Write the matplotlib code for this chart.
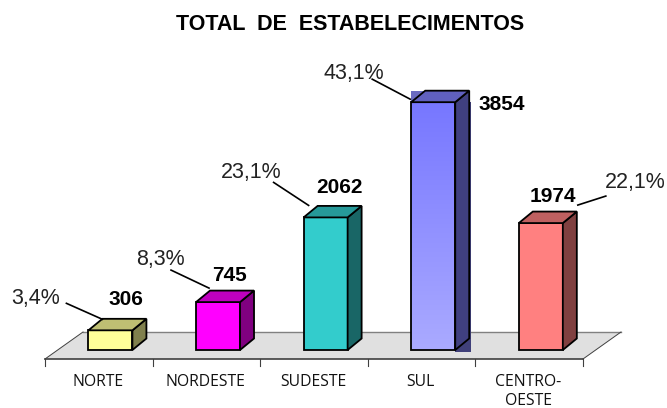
from matplotlib import pyplot as plt
from matplotlib.colors import LinearSegmentedColormap
from matplotlib.patches import Polygon
import numpy as np

# Data
categories = ['NORTE', 'NORDESTE', 'SUDESTE', 'SUL', 'CENTRO-\nOESTE']
values = [306, 745, 2062, 3854, 1974]
percents = ['3,4%', '8,3%', '23,1%', '43,1%', '22,1%']

# Colours (front, top, side)
front_colors = ['#FFFF99', '#FF00FF', '#33CCCC', '#8080FF', '#FF8080']
top_colors = ['#BFBF73', '#BF00BF', '#269999', '#6060BF', '#BF6060']
side_colors = ['#80804D', '#800080', '#196666', '#404080', '#804040']

# Label offsets in pixels from the top left corner of each bar
value_offsets = [(20, 21), (16, 17), (13, 20), (67, -12), (11, 17)]
pct_text = [(-53, 32), (-36, 43), (-52, 45), (-57, 29), (116, 41)]
leader_start = [(-22, 27), (-25, 32), (-30, 35), (-39, 23), (59, 18)]
leader_end = [(14, 11), (13, 14), (5, 12), (-1, 3), (87, 27)]

W, H = 667, 408
PX_X = 107.6
PX_Y = 0.0643
bar_w = 44 / PX_X
shift = 0.108
dx = 14 / PX_X
dy = 11.5 / PX_Y

fig = plt.figure(figsize=(W / 100, H / 100), dpi=100)
ax = fig.add_axes([45 / W, 49 / H, 538 / W, 299 / H])

# Floor
floor_front = -140
floor_back = 280
floor_dx = 38 / PX_X
ax.add_patch(Polygon([(-0.5, floor_front), (4.5, floor_front),
                      (4.5 + floor_dx, floor_back), (-0.5 + floor_dx, floor_back)],
                     fc='#E0E0E0', ec='none', clip_on=False, zorder=1))
ax.plot([-0.5 + floor_dx, 4.5 + floor_dx], [floor_back, floor_back], c='#808080', lw=1, clip_on=False, zorder=1.5)
ax.plot([-0.5, -0.5 + floor_dx], [floor_front, floor_back], c='#404040', lw=0.7, clip_on=False, zorder=1.5)
ax.plot([4.5, 4.5 + floor_dx], [floor_front, floor_back], c='#404040', lw=0.7, clip_on=False, zorder=1.5)
ax.plot([-0.5, 4.5], [floor_front, floor_front], c='#404040', lw=1.2, clip_on=False, zorder=1.5)

# Ticks and labels
for i in range(6):
    ax.plot([i - 0.5, i - 0.5], [floor_front, floor_front - 110], c='#404040', lw=0.8, clip_on=False)
for i, name in enumerate(categories):
    ax.text(i - 0.01, floor_front - 240, name, ha='center', va='top', fontsize=11.3,
            family='Open Sans', color='#111111', linespacing=1.25, clip_on=False)

# Bars
sul_cmap = LinearSegmentedColormap.from_list('sul', ['#AAAAFF', '#7777FF'])
for i, v in enumerate(values):
    x0 = i + shift - bar_w / 2
    x1 = x0 + bar_w
    if i == 3:
        # SUL has a gradient and a highlighted block round its top
        ax.add_patch(Polygon([(x0, v), (x1 + dx, v), (x1 + dx, v + dy), (x0, v + dy)],
                             fc='#6A6AC0', ec='none', zorder=2))
        ax.add_patch(Polygon([(x1, -30), (x1 + dx + 0.02, -30), (x1 + dx + 0.02, v), (x1, v)],
                             fc='#40407A', ec='none', zorder=2))
        grad = np.linspace(0, 1, 100).reshape(-1, 1)
        ax.imshow(grad, extent=(x0, x1, 0, v), origin='lower', aspect='auto', zorder=3, cmap=sul_cmap)
    ax.add_patch(Polygon([(x0, 0), (x1, 0), (x1, v), (x0, v)],
                         fc='none' if i == 3 else front_colors[i], ec='black', lw=1.3, zorder=4))
    ax.add_patch(Polygon([(x1, 0), (x1 + dx, dy), (x1 + dx, v + dy), (x1, v)],
                         fc=side_colors[i], ec='black', lw=1.3, zorder=4))
    ax.add_patch(Polygon([(x0, v), (x1, v), (x1 + dx, v + dy), (x0 + dx, v + dy)],
                         fc=top_colors[i], ec='black', lw=1.3, zorder=4))

    # Value label
    ax.annotate(str(v), (x0, v), xytext=value_offsets[i], textcoords='offset pixels',
                ha='left', va='bottom', fontsize=15, fontweight='bold',
                family='Liberation Sans', zorder=6, annotation_clip=False)

    # Percent label
    ax.annotate(percents[i], (x0, v), xytext=pct_text[i], textcoords='offset pixels',
                ha='center', va='center', fontsize=15.5, family='Liberation Sans',
                color='#222222', zorder=6, annotation_clip=False)

    # Leader line
    sx, sy = leader_start[i]
    ex, ey = leader_end[i]
    ax.plot([x0 + sx / PX_X, x0 + ex / PX_X], [v + sy / PX_Y, v + ey / PX_Y],
            c='black', lw=1.2, clip_on=False, zorder=5)

ax.set_xlim(-0.5, 4.5)
ax.set_ylim(-140, 4510)
ax.axis('off')

# Title
fig.text(350 / W, 1 - 24.5 / H, 'TOTAL  DE  ESTABELECIMENTOS', ha='center', va='center',
         fontsize=15.5, fontweight='bold', family='Liberation Sans')

plt.savefig('out.png', dpi=100)
